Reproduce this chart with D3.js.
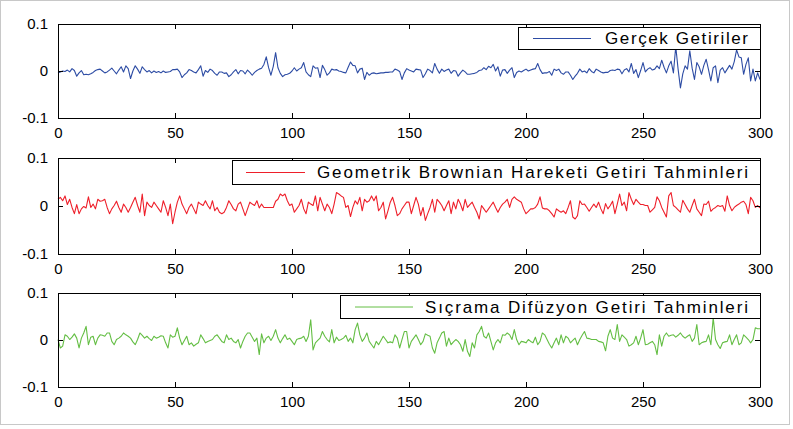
<!DOCTYPE html>
<html>
<head>
<meta charset="utf-8">
<script src="https://cdn.jsdelivr.net/npm/d3@7"></script>
<style>
  body { margin: 0; background: #fff; }
  svg { display: block; font-family: "Liberation Sans", Arial, sans-serif; }
</style>
</head>
<body>
<div id="chart"></div>
<script>
// x ticks and y ticks shared by all three panels
var xTicks = [0, 50, 100, 150, 200, 250, 300];
var yTicks = [-0.1, 0, 0.1];

// Gerçek Getiriler (blue)
var gercek = [
  -0.004,-0.002,0.000,-0.001,0.002,-0.002,0.005,0.001,-0.011,-0.004,
  0.001,-0.008,-0.007,-0.008,-0.006,-0.003,0.001,0.003,0.004,0.000,
  -0.004,-0.002,0.002,0.006,0.000,-0.006,0.002,0.009,-0.002,0.011,
  0.005,-0.016,0.000,0.011,0.004,-0.005,0.009,0.003,-0.002,0.001,
  -0.004,0.000,-0.003,-0.001,-0.004,0.000,-0.003,-0.002,-0.001,0.003,
  0.003,0.004,-0.002,-0.014,-0.008,-0.004,0.003,0.001,-0.002,-0.004,
  0.003,0.011,-0.011,0.001,-0.003,0.004,0.001,-0.005,-0.009,-0.002,
  -0.002,-0.005,-0.004,-0.012,-0.008,-0.002,0.003,-0.006,0.001,0.000,
  -0.006,0.002,-0.003,-0.009,-0.003,0.001,0.004,0.006,0.014,0.030,
  0.007,-0.009,0.010,0.039,0.007,-0.005,-0.012,-0.008,-0.007,-0.005,
  0.000,0.007,0.000,0.004,0.007,0.018,-0.002,-0.008,-0.012,0.011,
  0.006,0.007,-0.014,0.012,0.003,-0.009,-0.004,0.004,0.002,0.003,
  0.000,-0.001,-0.003,-0.004,0.008,0.019,0.012,0.011,-0.004,0.004,
  0.006,-0.018,-0.003,-0.009,-0.005,-0.004,-0.006,-0.005,-0.004,-0.004,
  -0.003,-0.003,-0.002,-0.002,0.004,0.002,-0.001,-0.018,-0.004,0.005,
  0.002,0.000,-0.002,0.004,0.003,0.002,-0.014,-0.006,0.004,0.001,
  -0.004,0.016,0.004,-0.005,0.004,-0.001,0.002,0.004,-0.005,0.001,
  0.000,-0.011,-0.004,0.002,-0.002,-0.007,-0.007,-0.006,-0.005,-0.003,
  0.001,0.002,0.007,0.003,0.010,0.007,0.014,0.000,0.009,-0.011,
  0.002,0.003,-0.005,0.002,0.007,-0.014,-0.003,0.000,-0.002,0.001,
  0.004,0.000,0.002,0.004,0.005,0.016,0.003,-0.005,-0.004,-0.004,
  -0.001,-0.009,0.004,0.001,0.004,-0.004,-0.007,-0.002,-0.002,-0.009,
  -0.018,-0.011,-0.005,0.004,-0.002,0.000,-0.004,0.005,-0.001,-0.004,
  0.004,0.001,-0.002,-0.004,-0.003,-0.003,0.001,0.002,0.001,0.004,
  0.003,-0.006,0.002,0.005,-0.002,0.016,-0.005,0.003,-0.014,0.001,
  0.018,-0.002,0.004,0.007,0.002,0.004,0.011,0.005,0.023,0.008,
  -0.004,0.011,0.021,-0.004,0.052,0.004,-0.036,-0.006,0.011,0.004,
  0.043,0.006,-0.018,0.018,0.009,-0.007,0.012,0.025,0.003,-0.021,
  0.007,0.011,-0.025,0.002,0.007,-0.004,0.004,0.012,0.004,0.020,
  0.045,0.030,0.028,-0.007,0.014,0.028,-0.021,0.004,-0.021,-0.004,
  -0.018
];

// Geometrik Brownian Hareketi Getiri Tahminleri (red)
var gbm = [
  0.014,0.018,0.011,0.021,0.003,0.014,-0.003,-0.016,0.003,-0.016,
  -0.006,-0.001,-0.004,0.019,-0.003,0.004,-0.006,0.014,0.010,0.011,
  0.014,-0.003,-0.016,-0.006,0.001,0.010,-0.003,-0.013,0.004,-0.003,
  -0.013,-0.003,0.008,0.018,0.001,-0.013,0.025,-0.020,0.008,0.001,
  -0.003,0.008,0.001,-0.006,-0.013,0.011,-0.003,-0.020,0.004,-0.037,
  -0.013,0.008,0.021,0.004,-0.006,-0.016,-0.003,0.004,-0.006,-0.016,
  0.008,0.004,0.001,0.011,0.001,-0.006,0.011,-0.010,-0.003,-0.013,
  -0.016,-0.013,-0.003,0.011,0.003,-0.006,-0.010,0.004,0.008,-0.006,
  -0.020,-0.006,0.008,0.004,0.001,0.011,-0.004,0.004,-0.003,-0.003,
  -0.003,-0.003,-0.003,0.010,0.014,0.025,0.021,0.025,0.011,0.001,
  0.004,-0.013,-0.006,0.001,0.014,-0.006,-0.016,0.008,0.004,0.001,
  0.021,-0.010,0.018,0.004,-0.010,0.004,-0.003,-0.016,0.004,0.028,
  0.025,0.021,0.018,-0.003,0.001,-0.022,-0.003,0.011,0.004,0.018,
  -0.010,0.014,0.008,0.011,0.021,0.011,0.021,-0.010,-0.003,0.008,
  -0.027,-0.010,0.008,0.018,0.001,-0.020,-0.016,-0.006,0.001,0.008,
  0.008,-0.016,0.001,0.018,0.004,-0.020,-0.003,-0.030,-0.016,-0.003,
  0.014,-0.013,0.014,0.008,0.001,-0.010,0.001,0.011,-0.016,0.008,
  -0.006,0.014,0.004,-0.010,0.014,-0.003,0.003,0.008,-0.003,-0.013,
  -0.027,0.001,-0.006,-0.013,-0.006,0.001,0.008,-0.003,-0.013,-0.003,
  0.004,0.008,0.014,-0.003,0.014,0.019,0.014,0.011,0.008,-0.006,
  -0.016,-0.011,-0.006,-0.006,-0.003,0.004,0.019,-0.004,-0.006,-0.006,
  -0.010,-0.016,-0.023,-0.006,-0.010,-0.013,-0.010,-0.016,-0.003,0.011,
  -0.023,-0.027,-0.020,0.011,0.003,0.004,-0.003,-0.011,-0.003,0.004,
  -0.003,0.008,-0.006,-0.016,0.005,-0.006,0.001,0.010,-0.016,0.004,
  0.025,0.001,0.008,-0.010,0.028,0.014,0.003,0.014,0.008,0.003,
  0.003,0.001,0.001,-0.013,-0.008,-0.003,0.019,0.011,-0.003,-0.013,
  -0.023,0.021,0.028,0.001,-0.003,-0.008,-0.013,0.012,0.003,-0.006,
  -0.013,0.001,0.014,-0.006,-0.013,-0.020,0.004,0.003,0.010,-0.011,
  -0.006,-0.003,0.001,-0.001,0.001,-0.011,0.021,0.001,-0.010,-0.003,
  0.001,0.004,0.008,0.010,0.003,-0.016,0.018,0.011,-0.003,0.001,
  -0.004
];

// Sıçrama Difüzyon Getiri Tahminleri (green)
var sicrama = [
  0.001,-0.017,-0.013,0.011,0.008,0.001,0.006,0.013,0.004,-0.017,
  0.004,0.015,0.029,-0.010,0.006,0.008,-0.010,0.004,0.011,0.010,
  0.008,0.015,0.015,-0.003,-0.010,0.001,0.004,0.008,0.015,0.011,
  0.008,0.004,-0.004,-0.010,0.001,0.015,0.010,0.004,0.008,0.003,
  -0.001,0.008,0.004,0.006,0.009,0.008,-0.006,-0.017,0.011,0.006,
  0.008,0.026,0.004,-0.010,-0.001,0.008,-0.010,-0.006,-0.013,-0.009,
  -0.006,0.011,0.003,-0.006,-0.003,-0.001,0.001,0.008,0.011,0.004,
  -0.003,-0.006,0.011,0.001,0.004,-0.003,-0.006,0.001,-0.017,-0.003,
  0.008,0.015,0.015,0.006,-0.003,0.004,-0.031,0.013,-0.006,0.004,
  0.008,-0.001,0.008,0.022,0.004,-0.006,0.003,0.011,0.001,0.004,
  -0.003,-0.010,0.001,0.003,0.004,0.008,-0.003,0.008,0.043,-0.021,
  -0.006,-0.001,0.004,0.018,0.008,0.001,-0.004,0.022,-0.006,0.006,
  -0.001,0.001,0.004,0.010,-0.003,0.004,-0.006,0.022,0.036,0.011,
  -0.003,0.004,0.015,-0.003,-0.010,-0.017,-0.003,-0.010,-0.001,0.008,
  0.001,-0.006,-0.004,-0.006,0.011,0.004,-0.017,0.001,0.018,0.018,
  -0.017,-0.003,0.004,0.011,0.001,-0.010,-0.003,0.013,0.010,0.008,
  -0.017,-0.028,-0.006,0.004,0.015,0.018,-0.013,0.004,-0.010,-0.004,
  0.001,-0.003,-0.010,-0.024,0.001,-0.024,-0.035,-0.006,-0.017,0.011,
  0.018,0.029,0.008,0.004,0.015,-0.003,-0.021,-0.006,0.001,-0.006,
  0.011,0.010,0.015,0.011,0.001,0.022,0.001,-0.010,-0.003,-0.004,
  -0.006,0.001,-0.003,-0.006,0.006,-0.010,-0.003,0.015,0.011,0.001,
  -0.009,-0.017,-0.006,0.004,-0.010,0.011,-0.006,0.008,0.004,-0.006,
  -0.001,0.004,-0.010,0.001,0.010,0.018,0.004,0.003,0.001,0.001,
  0.001,-0.003,-0.004,-0.006,-0.023,0.008,0.022,0.004,0.001,0.033,
  -0.003,0.011,0.006,0.001,-0.013,-0.010,-0.006,0.008,-0.010,0.004,
  0.022,-0.010,-0.009,-0.006,-0.003,-0.010,-0.031,0.011,-0.013,0.008,
  0.015,0.008,0.010,0.011,0.006,0.010,0.015,0.008,0.004,0.008,
  0.011,-0.003,0.004,0.033,-0.010,-0.006,-0.004,-0.003,0.011,-0.010,
  0.047,0.001,-0.010,-0.018,-0.006,-0.004,-0.003,0.011,-0.010,0.001,
  0.011,-0.010,-0.006,0.011,0.006,0.001,-0.006,0.001,0.026,0.024,
  0.024
];

var legendLabels = [
  'Gerçek Getiriler',
  'Geometrik Brownian Hareketi Getiri Tahminleri',
  'Sıçrama Difüzyon Getiri Tahminleri'
];

var width = 793;
var height = 429;

var panels = [
  { values: gercek, color: '#2d4ca4', top: 24, bottom: 118, label: legendLabels[0],
    legend: { x: 518, y: 27, w: 242, h: 22, lineFrom: 533, lineTo: 591, textX: 605, textW: 143 } },
  { values: gbm, color: '#ee1f2a', top: 158, bottom: 254, label: legendLabels[1],
    legend: { x: 232, y: 160, w: 528, h: 24, lineFrom: 246, lineTo: 305, textX: 317, textW: 431 } },
  { values: sicrama, color: '#64be44', top: 293, bottom: 387, label: legendLabels[2],
    legend: { x: 340, y: 295, w: 420, h: 23, lineFrom: 355, lineTo: 413, textX: 425, textW: 323 } }
];

var left = 58;
var right = 760;

var svg = d3.select('#chart')
  .append('svg')
  .attr('width', width)
  .attr('height', height);

svg.append('rect')
  .attr('x', 0.5)
  .attr('y', 0.5)
  .attr('width', width - 4)
  .attr('height', height - 5)
  .attr('fill', '#fff')
  .attr('stroke', '#c8c8c8');

var x = d3.scaleLinear()
  .domain([0, 300])
  .range([left, right]);

panels.forEach(function(p) {
  var y = d3.scaleLinear()
    .domain([-0.1, 0.1])
    .range([p.bottom, p.top]);

  var g = svg.append('g');

  // data line
  var line = d3.line()
    .x(function(d, i) { return x(i); })
    .y(function(d) { return y(d); });

  g.append('path')
    .datum(p.values)
    .attr('d', line)
    .attr('fill', 'none')
    .attr('stroke', p.color)
    .attr('stroke-width', 1.1)
    .attr('stroke-linejoin', 'round');

  // axes: inward ticks on all sides, MATLAB style
  var bottomAxis = d3.axisBottom(x).tickValues(xTicks).tickSizeInner(-5).tickSizeOuter(0).tickPadding(9);
  var topAxis = d3.axisTop(x).tickValues(xTicks).tickSizeInner(-5).tickSizeOuter(0).tickFormat('');
  var leftAxis = d3.axisLeft(y).tickValues(yTicks).tickSizeInner(-5).tickSizeOuter(0).tickPadding(10)
    .tickFormat(function(d) { return d === 0 ? '0' : d3.format('.1f')(d).replace('\u2212', '-'); });
  var rightAxis = d3.axisRight(y).tickValues(yTicks).tickSizeInner(-5).tickSizeOuter(0).tickFormat('');

  g.append('g').attr('transform', 'translate(0,' + p.bottom + ')').call(bottomAxis);
  g.append('g').attr('transform', 'translate(0,' + p.top + ')').call(topAxis);
  g.append('g').attr('transform', 'translate(' + left + ',0)').call(leftAxis);
  g.append('g').attr('transform', 'translate(' + right + ',0)').call(rightAxis);

  g.selectAll('.domain').attr('stroke', '#000');
  g.selectAll('.tick line').attr('stroke', '#000');
  g.selectAll('.tick text')
    .attr('fill', '#000')
    .style('font-size', '15px')
    .style('font-family', '"Liberation Sans", Arial, sans-serif');

  // legend (drawn over the data like MATLAB)
  var L = p.legend;
  g.append('rect')
    .attr('x', L.x + 0.5)
    .attr('y', L.y + 0.5)
    .attr('width', L.w)
    .attr('height', L.h)
    .attr('fill', '#fff')
    .attr('stroke', '#000');

  g.append('line')
    .attr('x1', L.lineFrom)
    .attr('x2', L.lineTo)
    .attr('y1', L.y + L.h / 2 + 0.5)
    .attr('y2', L.y + L.h / 2 + 0.5)
    .attr('stroke', p.color);

  g.append('text')
    .attr('x', L.textX)
    .attr('y', L.y + L.h / 2 + 6)
    .attr('textLength', L.textW)
    .attr('lengthAdjust', 'spacing')
    .style('font-size', '17px')
    .text(p.label);
});
</script>
</body>
</html>
